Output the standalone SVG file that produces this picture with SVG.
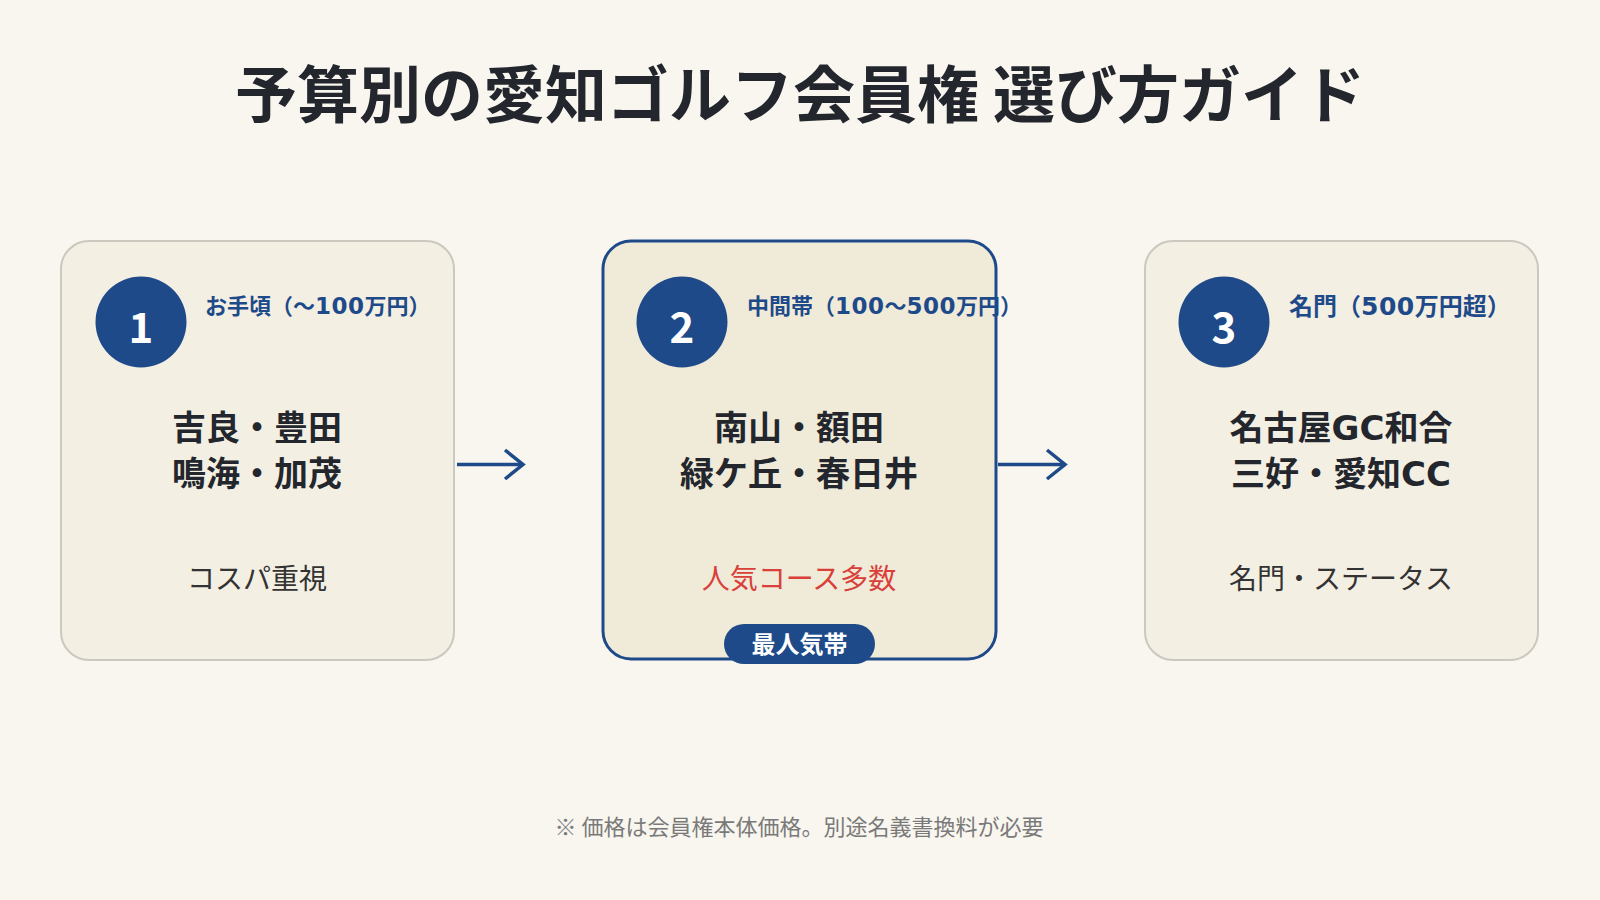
<svg xmlns="http://www.w3.org/2000/svg" width="1600" height="900" viewBox="0 0 1600 900">
<defs>
<style>
text{font-family:"Noto Sans CJK JP","Noto Sans",sans-serif;}
.title{font-size:62px;font-weight:700;fill:#23272d;text-anchor:middle;}
.card{fill:#f3efe3;stroke:#cbc8c0;stroke-width:2;}
.card-hl{fill:#f0ead9;stroke:#1e4a8a;stroke-width:3;}
.circ{fill:#1e4a8a;}
.num{font-size:42px;font-weight:700;fill:#ffffff;text-anchor:middle;}
.label{font-size:22px;font-weight:700;fill:#1e4a8a;}
.label-lg{font-size:24px;font-weight:700;fill:#1e4a8a;}
.dg{font-family:"DejaVu Sans","Noto Sans CJK JP",sans-serif;font-weight:700;font-size:23px;letter-spacing:0.5px;}
.dg-lg{font-family:"DejaVu Sans","Noto Sans CJK JP",sans-serif;font-weight:700;font-size:25px;letter-spacing:0.5px;}
.lat{font-family:"DejaVu Sans","Noto Sans CJK JP",sans-serif;font-weight:700;}
.main{font-size:34px;font-weight:700;fill:#23272d;text-anchor:middle;}
.sub{font-size:28px;font-weight:400;fill:#333333;text-anchor:middle;}
.subred{font-size:28px;font-weight:400;fill:#d9403a;text-anchor:middle;}
.badge{fill:#1e4a8a;}
.badgetxt{font-size:24px;font-weight:700;fill:#ffffff;text-anchor:middle;}
.note{font-size:22px;fill:#7a7a7a;text-anchor:middle;}
.conn{stroke:#1e4a8a;stroke-width:3.5;fill:none;}
</style>
</defs>
<rect x="0" y="0" width="1600" height="900" fill="#f8f6ef"/>
<text class="title" x="800" y="118">予算別の愛知ゴルフ会員権 選び方ガイド</text>

<g id="connectors">
<line class="conn" x1="457" y1="464.5" x2="522" y2="464.5"/>
<polyline class="conn" points="505,450 523,464.5 505,479"/>
<line class="conn" x1="998" y1="464.5" x2="1065" y2="464.5"/>
<polyline class="conn" points="1047,450 1065,464.5 1047,479"/>
</g>

<g id="node1">
<rect class="card" x="61" y="241" width="393" height="419" rx="28"/>
<circle class="circ" cx="141" cy="322" r="45.5"/>
<text class="num" x="141" y="343">1</text>
<text class="label" x="205" y="314">お手頃（〜<tspan class="dg">100</tspan>万円）</text>
<text class="main" x="257" y="440">吉良・豊田</text>
<text class="main" x="257" y="486">鳴海・加茂</text>
<text class="sub" x="257" y="589">コスパ重視</text>
</g>

<g id="node2">
<rect class="card-hl" x="603" y="241" width="393" height="418" rx="28"/>
<circle class="circ" cx="682" cy="322" r="45.5"/>
<text class="num" x="682" y="343">2</text>
<text class="label" x="747" y="314">中間帯（<tspan class="dg">100</tspan>〜<tspan class="dg">500</tspan>万円）</text>
<text class="main" x="799" y="440">南山・額田</text>
<text class="main" x="799" y="486">緑ケ丘・春日井</text>
<text class="subred" x="799" y="589">人気コース多数</text>
<rect class="badge" x="724" y="624" width="151" height="40" rx="20"/>
<text class="badgetxt" x="799.5" y="653">最人気帯</text>
</g>

<g id="node3">
<rect class="card" x="1145" y="241" width="393" height="419" rx="28"/>
<circle class="circ" cx="1224" cy="322" r="45.5"/>
<text class="num" x="1224" y="343">3</text>
<text class="label-lg" x="1289" y="315">名門（<tspan class="dg-lg">500</tspan>万円超）</text>
<text class="main" x="1341" y="440">名古屋<tspan class="lat">GC</tspan>和合</text>
<text class="main" x="1341" y="486">三好・愛知<tspan class="lat">CC</tspan></text>
<text class="sub" x="1341" y="589">名門・ステータス</text>
</g>

<text class="note" x="799" y="835">※ 価格は会員権本体価格。別途名義書換料が必要</text>
</svg>
